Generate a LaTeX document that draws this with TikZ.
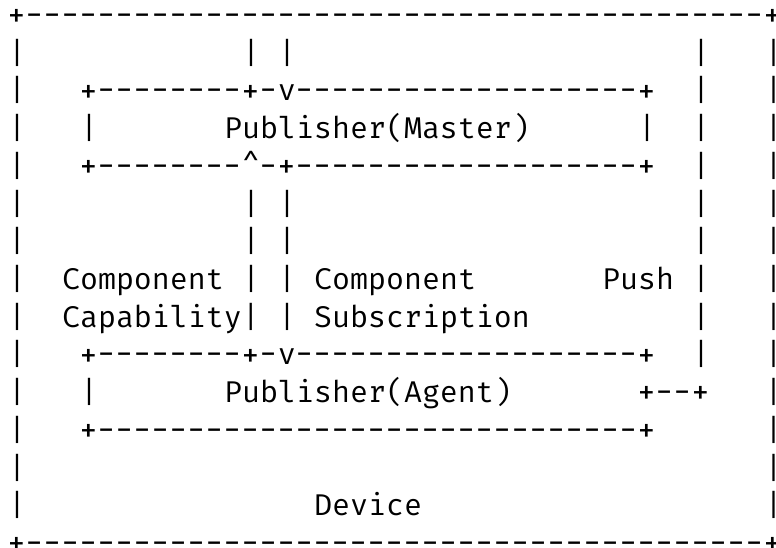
\documentclass[tikz,border=0pt]{standalone}
\usepackage{fontspec}
\usepackage{graphicx}
\newfontfamily\asciimono{Fira Mono}
\ExplSyntaxOn
\cs_new:Npn \myrep #1#2 { \prg_replicate:nn {#1} {#2} }
\ExplSyntaxOff
% one character cell is 13.5pt (= 18px) wide
\newcommand\dd{\makebox[13.5pt]{\scalebox{1.12}[1.1]{-}}}
\newcommand\pp{\makebox[13.5pt]{\raisebox{-1pt}{\scalebox{1.15}{+}}}}
\tikzset{ascii/.style={anchor=base west, inner sep=0pt, outer sep=0pt,
  font=\asciimono\fontsize{22.5}{22.5}\selectfont}}
\newcommand\seg[4]{\node[ascii] (#1) at ({8+18*#2},{25.5+37.71*(#3-1)}) {#4};}
\begin{document}
\begin{tikzpicture}[x=0.75pt,y=-0.75pt]
\useasboundingbox (0,0) rectangle (776,548);
% outer Device frame
\seg{topb}{0}{1}{\pp\myrep{41}{\dd}\pp}
\seg{botb}{0}{15}{\pp\myrep{41}{\dd}\pp}
\foreach \r in {2,...,14}{\seg{lb\r}{0}{\r}{|}\seg{rb\r}{42}{\r}{\makebox[0pt][l]{|}}}
% row 2
\seg{capin2}{13}{2}{|}\seg{subin2}{15}{2}{|}\seg{push2}{38}{2}{|}
% Publisher(Master) box
\seg{mtop}{4}{3}{\pp\myrep{8}{\dd}\pp\dd v\myrep{19}{\dd}\pp}
\seg{push3}{38}{3}{|}
\seg{mleft}{4}{4}{|}\seg{master}{12}{4}{Publisher(Master)}\seg{mright}{35}{4}{|}\seg{push4}{38}{4}{|}
\seg{mbot}{4}{5}{\pp\myrep{8}{\dd}\textasciicircum\dd\pp\myrep{19}{\dd}\pp}
\seg{push5}{38}{5}{|}
% vertical links
\foreach \r in {6,7}{\seg{cap\r}{13}{\r}{|}\seg{sub\r}{15}{\r}{|}\seg{push\r}{38}{\r}{|}}
\seg{lcomp}{3}{8}{Component}\seg{cap8}{13}{8}{|}\seg{sub8}{15}{8}{|}\seg{rcomp}{17}{8}{Component}\seg{pushlbl}{33}{8}{Push}\seg{push8}{38}{8}{|}
\seg{lcapab}{3}{9}{Capability|}\seg{sub9}{15}{9}{|}\seg{rsubs}{17}{9}{Subscription}\seg{push9}{38}{9}{|}
% Publisher(Agent) box
\seg{atop}{4}{10}{\pp\myrep{8}{\dd}\pp\dd v\myrep{19}{\dd}\pp}
\seg{push10}{38}{10}{|}
\seg{aleft}{4}{11}{|}\seg{agent}{12}{11}{Publisher(Agent)}\seg{pushend}{35}{11}{\pp\dd\dd\pp}
\seg{abot}{4}{12}{\pp\myrep{30}{\dd}\pp}
% Device label
\seg{device}{17}{14}{Device}
\end{tikzpicture}
\end{document}
